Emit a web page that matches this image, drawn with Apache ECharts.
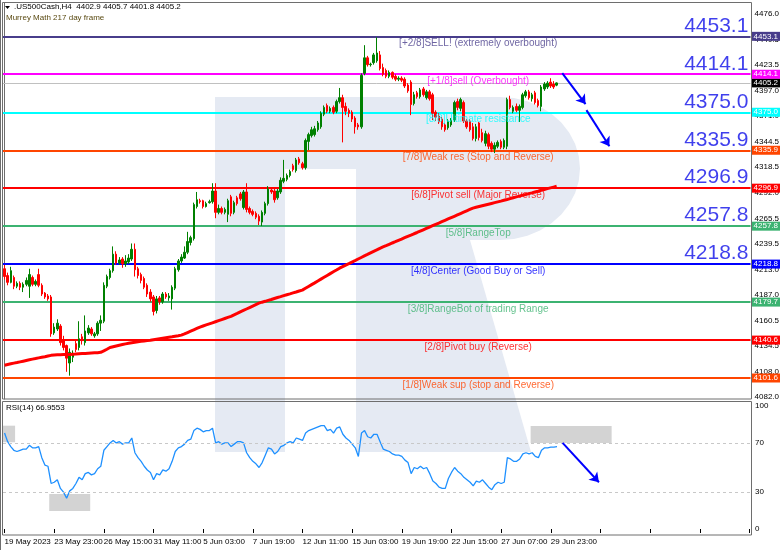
<!DOCTYPE html>
<html><head><meta charset="utf-8">
<script src="https://cdn.jsdelivr.net/npm/echarts@6/dist/echarts.min.js"></script>
<style>html,body{margin:0;padding:0;background:#fff}#c{width:782px;height:550px}</style>
</head><body><div id="c"></div><script>
// ---------------- data ----------------
const dateLabels = ['19 May 2023','23 May 23:00','26 May 15:00','31 May 11:00','5 Jun 03:00','7 Jun 19:00','12 Jun 11:00','15 Jun 03:00','19 Jun 19:00','22 Jun 15:00','27 Jun 07:00','29 Jun 23:00'];
const barsPerLabel = 16;
const totalSlots = 241;
// [open, close, low, high]
const candles = [
[4214,4206,4203,4218],[4207,4200,4197,4210],[4200,4212,4199,4216],[4205,4196,4193,4207],[4196,4199,4194,4201],
[4199,4195,4192,4201],[4195,4198,4190,4200],[4198,4202,4196,4205],[4196,4208,4184,4214],[4205,4198,4196,4207],
[4198,4201,4196,4203],[4208,4197,4195,4214],[4197,4188,4186,4199],[4189,4185,4183,4190],[4186,4183,4181,4188],
[4185,4147,4144,4187],[4148,4154,4146,4158],[4152,4158,4150,4162],[4155,4138,4135,4157],[4140,4133,4130,4145],
[4135,4122,4108,4136],[4117,4128,4104,4132],[4123,4127,4118,4130],[4137,4131,4128,4140],[4133,4142,4130,4160],
[4144,4140,4136,4147],[4138,4150,4135,4166],[4148,4153,4146,4156],[4152,4147,4145,4154],[4145,4147,4143,4149],
[4147,4158,4145,4160],[4158,4161,4150,4166],[4160,4197,4158,4200],[4196,4206,4194,4208],[4205,4212,4203,4214],
[4212,4229,4210,4237],[4229,4220,4218,4232],[4220,4223,4218,4226],[4224,4219,4215,4226],[4219,4222,4216,4228],
[4221,4225,4219,4229],[4224,4234,4222,4240],[4234,4213,4206,4240],[4214,4207,4204,4216],[4208,4202,4199,4210],
[4204,4195,4193,4206],[4197,4188,4185,4199],[4190,4183,4180,4193],[4185,4170,4166,4187],[4171,4183,4168,4186],
[4184,4180,4177,4186],[4180,4188,4178,4190],[4188,4185,4183,4190],[4184,4186,4181,4189],[4183,4195,4172,4197],
[4194,4214,4192,4216],[4213,4222,4211,4224],[4222,4226,4220,4229],[4225,4231,4224,4237],[4231,4242,4229,4252],
[4241,4246,4238,4248],[4245,4280,4243,4282],[4278,4285,4276,4293],[4284,4283,4281,4286],[4284,4278,4276,4285],
[4278,4281,4277,4283],[4282,4283,4281,4285],[4283,4294,4281,4302],[4294,4272,4266,4302],[4272,4276,4270,4280],
[4276,4272,4270,4278],[4272,4275,4270,4277],[4270,4284,4262,4286],[4288,4271,4268,4290],[4272,4282,4270,4284],
[4287,4281,4279,4289],[4291,4286,4284,4293],[4277,4293,4275,4295],[4293,4275,4272,4302],[4276,4272,4270,4278],
[4273,4270,4268,4275],[4271,4267,4265,4273],[4268,4263,4259,4270],[4262,4272,4258,4274],[4271,4281,4269,4283],
[4281,4296,4279,4299],[4295,4293,4291,4296],[4294,4285,4282,4296],[4287,4294,4285,4296],[4293,4305,4291,4308],
[4304,4307,4302,4326],[4306,4310,4304,4312],[4310,4314,4308,4316],[4320,4316,4314,4322],[4315,4326,4313,4328],
[4327,4323,4321,4329],[4322,4318,4316,4324],[4318,4346,4316,4348],[4345,4352,4336,4354],[4351,4357,4349,4360],
[4352,4358,4350,4361],[4357,4364,4355,4366],[4360,4374,4358,4376],[4373,4380,4371,4382],[4382,4376,4374,4384],
[4376,4379,4374,4381],[4380,4375,4373,4382],[4376,4386,4374,4388],[4386,4390,4384,4400],[4390,4380,4344,4393],
[4381,4376,4372,4385],[4377,4374,4370,4379],[4375,4368,4365,4377],[4369,4360,4353,4371],[4362,4360,4357,4364],
[4360,4413,4358,4415],[4415,4431,4413,4444],[4431,4424,4422,4433],[4424,4424.5,4422,4426],[4426,4434,4424,4436],
[4428,4436,4426,4452],[4434,4420,4418,4438],[4421,4414,4412,4425],[4418,4412,4410,4420],[4412,4416,4410,4418],
[4416,4411,4409,4417],[4412,4409,4407,4414],[4409,4410,4407,4412],[4410,4408,4406,4412],[4409,4402,4400,4411],
[4403,4397,4395,4405],[4406,4383,4372,4408],[4384,4393,4382,4396],[4395,4391,4389,4397],[4391,4398,4389,4400],
[4399,4393,4391,4401],[4390,4396,4388,4398],[4396,4389,4387,4398],[4393,4374,4367,4395],[4375,4370,4366,4377],
[4371,4365,4363,4374],[4368,4360,4357,4370],[4362,4357,4355,4364],[4359,4366,4357,4368],[4362,4367,4360,4369],
[4367,4385,4365,4387],[4386,4380,4377,4389],[4379,4388,4376,4390],[4385,4366,4364,4387],[4366,4360,4358,4368],
[4366,4357,4355,4368],[4360,4348,4346,4364],[4348,4360,4345,4363],[4364,4349,4346,4365],[4354,4346,4344,4358],
[4343,4353,4340,4356],[4352,4340,4337,4354],[4343,4337,4334,4345],[4337,4341,4333,4344],[4340,4344,4338,4346],
[4345,4339,4337,4347],[4339,4346,4337,4348],[4340,4388,4337,4390],[4388,4380,4378,4392],[4376,4380,4374,4382],
[4381,4377,4375,4384],[4377,4381,4365,4383],[4380,4393,4378,4395],[4392,4396,4390,4398],[4396,4390,4388,4398],
[4389,4393,4386,4395],[4395,4385,4383,4397],[4387,4382,4380,4389],[4381,4401,4376,4403],[4399,4404,4397,4406],
[4401,4405,4399,4407],[4406,4402,4400,4410],[4404,4401,4399,4407],[4402.9,4405.2,4401.8,4405.7]
];
const ma217 = [
4114.8,4115.5,4116.2,4116.9,4117.5,4118.2,4118.9,4119.6,4120.3,4121.0,4121.6,4122.3,4122.9,4123.5,4124.2,4124.9,
4125.3,4125.5,4125.6,4125.7,4125.7,4125.8,4126.0,4126.2,4126.5,4126.7,4126.9,4127.1,4127.3,4127.5,4127.7,4128.0,
4129.5,4131.2,4133.0,
4133.8,4134.6,4135.3,4136.0,4136.7,4137.3,4137.9,4138.4,4138.9,4139.3,4139.7,4140.1,4140.5,
4141.0,4141.5,4142.0,4142.5,4143.0,4143.5,4144.0,4144.6,4145.1,4145.7,
4147.0,4148.4,4149.8,4151.2,4152.6,4154.0,
4155.1,4156.2,4157.3,4158.4,4159.5,4160.6,4161.7,4162.8,4163.9,4165.0,
4166.5,4168.0,4169.6,4171.1,4172.6,4174.1,4175.6,4177.1,4178.6,
4179.6,4180.5,4181.5,4182.4,4183.4,4184.4,4185.3,4186.3,4187.3,4188.2,4189.2,4190.1,4191.1,4192.0,
4193.9,4195.8,4197.7,4199.5,4201.4,4203.3,4205.2,4207.1,4209.0,4210.9,4212.7,4214.6,
4216.2,4217.8,4219.3,4220.9,4222.4,4224.0,4225.6,4227.2,4228.7,4230.3,4231.9,4233.4,4235.0,
4236.4,4237.7,4239.1,4240.5,4241.8,4243.2,4244.5,4245.9,4247.3,4248.6,4250.0,4251.3,4252.7,
4254.1,4255.5,4256.9,4258.3,4259.7,4261.0,4262.4,4263.8,4265.2,4266.6,4268.0,4269.4,4270.8,4272.2,4273.6,4275.0,4276.4,
4277.2,4278.0,4278.8,4279.6,4280.4,4281.2,4282.0,4282.8,4283.6,
4284.5,4285.3,4286.2,4287.0,4287.9,4288.7,4289.6,4290.4,4291.3,4292.1,4293.0,4293.8,4294.7,4295.5,4296.4,4297.2,4298.0,4298.8
];
const rsi14 = [
78,71,67,64,63,64,65,65,68,66,66,67,
58,52,51,37,38,40,33,30,25,31,33,37,
42,40,45,46,44,45,49,51,64,67,70,72,
70,71,69,70,70,74,62,58,55,51,48,46,
40,45,44,48,47,49,55,63,66,67,69,72,
73,80,82,81,79,80,80,82,70,71,69,70,
70,67,69,71,71,70,62,58,55,53,50,54,
60,66,65,61,63,67,68,70,71,70,74,73,
72,78,80,81,82,83,84,84,80,81,78,82,
83,77,74,72,69,66,59,78,80,75,74,77,
77,71,65,64,63,61,60,60,59,56,54,45,
50,49,51,49,50,45,39,37,34,33,33,41,
46,50,47,45,42,40,38,35,39,38,40,37,
34,32,36,38,37,38,58,57,55,55,57,61,
62,61,62,59,58,64,66,66,66.5,66.6,66.9553
];
const levelValues = [4453.1,4414.1,4375.0,4335.9,4296.9,4257.8,4218.8,4179.7,4140.6,4101.6];
const levelNames = ['[+2/8]SELL! (extremely overbought)','[+1/8]sell (Overbought)','[8/8]Ultimate resistance','[7/8]Weak res (Stop and Reverse)','[6/8]Pivot sell (Major Reverse)','[5/8]RangeTop','[4/8]Center (Good Buy or Sell)','[3/8]RangeBot of trading Range','[2/8]Pivot buy (Reverse)','[1/8]Weak sup (stop and Reverse)'];
const bigLabelCount = 7;
const bidPrice = 4405.2;
const priceTicks = [4082.0,4108.0,4134.5,4160.5,4187.0,4213.0,4239.5,4265.5,4292.0,4318.5,4344.5,4371.0,4397.0,4423.5,4449.5,4476.0];
const rsiTicks = [0,30,70,100];
const rsiLevels = [30,70];
const headerText = '.US500Cash,H4  4402.9 4405.7 4401.8 4405.2';
const indicatorText = 'Murrey Math 217 day frame';
const rsiText = 'RSI(14) 66.9553';
// annotation boxes on RSI (bar index range, rsi range)
const rsiBoxes = [[-0.5,3.4,70.5,84],[14.4,27.6,14.6,28.5],[169.5,195.6,70,83.7]];
// arrows [x1,y1,x2,y2] in (bar index, value)
const priceArrows = [[179.8,4415.3,187.3,4383.4],[187.6,4377.2,195.0,4340.0]];
const rsiArrows = [[179.8,70,191.5,38]];

// ---------------- build ----------------
const FONT = "'Liberation Sans', Arial, sans-serif";
const levelColors = ['#483d8b','#ff00ff','#00ffff','#ff4500','#ff0000','#3cb371','#0000ff','#3cb371','#ff0000','#ff4500'];
const cats = [];
for (let i = 0; i < totalSlots; i++) {
  cats.push(i % barsPerLabel === 0 && dateLabels[i / barsPerLabel] ? dateLabels[i / barsPerLabel] : '');
}
const textX = 152.7, bigX = 239.8;

const levelLines = levelValues.map((v, k) => ({
  yAxis: v,
  lineStyle: { color: levelColors[k], width: 2, type: 'solid' },
  label: { show: true, position: 'end', distance: 1, formatter: v.toFixed(1), backgroundColor: levelColors[k],
           color: '#fff', fontSize: 8, fontFamily: FONT, padding: [1, 2, 0, 2] }
}));
levelLines.unshift({
  yAxis: bidPrice,
  lineStyle: { color: '#c0c0c0', width: 1, type: 'solid' },
  label: { show: true, position: 'end', distance: 1, formatter: bidPrice.toFixed(1), backgroundColor: '#000',
           color: '#fff', fontSize: 8, fontFamily: FONT, padding: [1, 2, 0, 2] }
});

const arrowLine = (a) => [{ coord: [a[0], a[1]] }, { coord: [a[2], a[3]] }];

const bowl = [];
for (let a = -90; a <= 90; a += 10) {
  const r = a * Math.PI / 180;
  bowl.push([500 + 80 * Math.cos(r), 168.5 + 71.5 * Math.sin(r)]);
}
const bowlPts = bowl.concat([[356, 240], [356, 169], [500, 169]]);

const wm = '#e5eaf3';
const option = {
  animation: false,
  backgroundColor: '#fff',
  grid: [
    { left: 3, right: 31, top: 3, height: 396 },
    { left: 3, right: 31, top: 406, height: 123 }
  ],
  xAxis: [
    { type: 'category', gridIndex: 0, data: cats, boundaryGap: true, axisLine: { show: false }, axisTick: { show: false }, axisLabel: { show: false }, splitLine: { show: false } },
    { type: 'category', gridIndex: 1, data: cats, boundaryGap: true, offset: 6,
      axisLine: { show: false },
      axisTick: { show: true, interval: 15, alignWithLabel: true, length: 4, lineStyle: { color: '#000' } },
      axisLabel: { show: true, interval: 15, align: 'left', fontSize: 8, fontFamily: FONT, color: '#000', margin: 3, hideOverlap: false },
      splitLine: { show: false } },
    { type: 'value', gridIndex: 0, min: -0.5, max: totalSlots - 0.5, show: false },
    { type: 'value', gridIndex: 1, min: -0.5, max: totalSlots - 0.5, show: false }
  ],
  yAxis: [
    { type: 'value', gridIndex: 0, position: 'right', min: 4080.0, max: 4487.4,
      splitLine: { show: false },
      axisLine: { show: true, lineStyle: { color: '#6e6e6e' } },
      axisTick: { show: false },
      axisLabel: { show: true, customValues: priceTicks, formatter: v => v.toFixed(1), fontSize: 8, fontFamily: FONT, color: '#000', margin: 4 } },
    { type: 'value', gridIndex: 1, position: 'right', min: 0, max: 100,
      splitLine: { show: false },
      axisLine: { show: false },
      axisTick: { show: false },
      axisLabel: { show: true, customValues: rsiTicks, fontSize: 8, fontFamily: FONT, color: '#000', margin: 4 } }
  ],
  series: [
    { type: 'candlestick', xAxisIndex: 0, yAxisIndex: 0, data: candles, barWidth: 2, z: 3,
      itemStyle: { color: '#008000', color0: '#ff0000', borderColor: '#008000', borderColor0: '#ff0000', borderWidth: 1 },
      markLine: { symbol: 'none', silent: true, animation: false, z: 2, data: levelLines } },
    { type: 'line', xAxisIndex: 0, yAxisIndex: 0, data: ma217, symbol: 'none', z: 4,
      lineStyle: { color: '#ff0000', width: 3 } },
    { type: 'scatter', xAxisIndex: 2, yAxisIndex: 0, symbolSize: 0, z: 5, silent: true,
      data: levelValues.map((v, k) => ({ value: [textX, v], label: { color: levelColors[k] } })),
      label: { show: true, position: 'bottom', distance: 2, fontSize: 10, fontFamily: FONT,
               formatter: p => levelNames[p.dataIndex] } },
    { type: 'scatter', xAxisIndex: 2, yAxisIndex: 0, symbolSize: 0, z: 5, silent: true,
      data: levelValues.slice(0, bigLabelCount).map(v => ({ value: [bigX, v] })),
      label: { show: true, position: 'insideBottomRight', distance: 0, fontSize: 21, fontFamily: FONT, color: '#0f0fe8',
               formatter: p => levelValues[p.dataIndex].toFixed(1) },
      markLine: { symbol: ['none', 'arrow'], symbolSize: 9, silent: true, animation: false,
                  lineStyle: { color: '#0000ff', width: 2, type: 'solid' }, label: { show: false },
                  data: priceArrows.map(arrowLine) } },
    { type: 'line', xAxisIndex: 1, yAxisIndex: 1, data: rsi14, symbol: 'none', z: 4,
      lineStyle: { color: '#1e90ff', width: 1.3 },
      markLine: { symbol: 'none', silent: true, animation: false, label: { show: false },
                  lineStyle: { color: '#c8c8c8', width: 1, type: [3, 3] },
                  data: rsiLevels.map(v => ({ yAxis: v })) } },
    { type: 'scatter', xAxisIndex: 3, yAxisIndex: 1, symbolSize: 0, silent: true, z: 3,
      data: [[-10, -10]],
      markArea: { silent: true, itemStyle: { color: '#d3d3d3' },
                  data: rsiBoxes.map(b => [{ coord: [b[0], b[2]] }, { coord: [b[1], b[3]] }]) },
      markLine: { symbol: ['none', 'arrow'], symbolSize: 9, silent: true, animation: false,
                  lineStyle: { color: '#0000ff', width: 2, type: 'solid' }, label: { show: false },
                  data: rsiArrows.map(arrowLine) } }
  ],
  graphic: [
    { type: 'group', z: 0, silent: true, children: [
      { type: 'rect', shape: { x: 215, y: 97, width: 70, height: 355 }, style: { fill: wm } },
      { type: 'rect', shape: { x: 285, y: 97, width: 215, height: 72 }, style: { fill: wm } },
      { type: 'polygon', shape: { points: [[356,240],[470,240],[531,452],[356,452]] }, style: { fill: wm } },
      { type: 'polygon', shape: { points: bowlPts }, style: { fill: wm } }
    ]},
    { type: 'rect', z: 20, silent: true, shape: { x: 2.5, y: 2.5, width: 749, height: 396.5 }, style: { fill: 'none', stroke: '#6e6e6e', lineWidth: 1 } },
    { type: 'rect', z: 20, silent: true, shape: { x: 2.5, y: 401.5, width: 749, height: 133.5 }, style: { fill: 'none', stroke: '#6e6e6e', lineWidth: 1 } },
    { type: 'line', z: 20, silent: true, shape: { x1: 0.5, y1: 0, x2: 0.5, y2: 550 }, style: { stroke: '#6e6e6e', lineWidth: 1 } },
    { type: 'polygon', z: 21, silent: true, shape: { points: [[5,6],[10,6],[7.5,9]] }, style: { fill: '#000' } },
    { type: 'text', z: 21, silent: true, left: 14, top: 3, style: { text: headerText, font: '8px ' + FONT, fill: '#000' } },
    { type: 'text', z: 21, silent: true, left: 6, top: 14, style: { text: indicatorText, font: '8px ' + FONT, fill: '#5a4a12' } },
    { type: 'text', z: 21, silent: true, left: 6, top: 404, style: { text: rsiText, font: '8px ' + FONT, fill: '#000' } }
  ]
};
const chart = echarts.init(document.getElementById('c'), null, { renderer: 'canvas' });
chart.setOption(option);
</script></body></html>
